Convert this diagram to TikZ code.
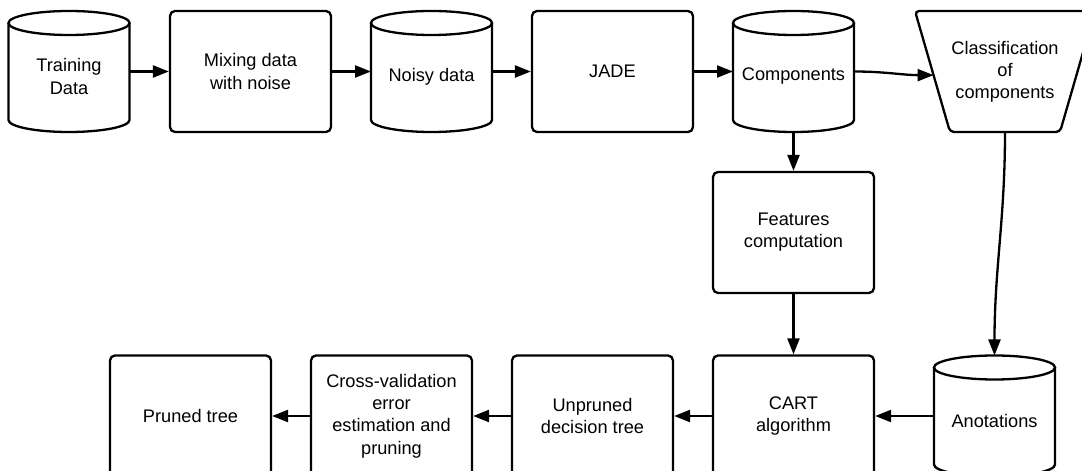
\documentclass[tikz,border=0pt]{standalone}
\usepackage{fontspec}
\setmainfont{Liberation Sans}
\usetikzlibrary{arrows.meta,calc}
\newcommand\lbl{\fontsize{18.2pt}{22.2pt}\selectfont}
\newcommand\drawcyl[1]{%
  \draw[ln] ([yshift=-12pt]#1.north west) -- ([yshift=12pt]#1.south west)
     arc[start angle=180,end angle=360,x radius=60.5pt,y radius=12pt]
     -- ([yshift=-12pt]#1.north east);
  \draw[ln] ([yshift=-12pt]#1.north) ellipse[x radius=60.5pt,y radius=12pt];}
\tikzset{
  ln/.style={line width=2.3pt},
  box/.style={draw, line width=2.3pt, rounded corners=5pt, minimum width=161pt,
    minimum height=121pt, inner sep=0pt, align=center, font=\lbl},
  cyl/.style={minimum width=121pt, minimum height=121pt, inner sep=0pt,
    outer sep=0pt},
  cyltext/.style={align=center, font=\lbl, yshift=-5pt, inner sep=0pt},
  trap/.style={minimum width=180pt, minimum height=121pt, inner sep=0pt,
    outer sep=0pt, align=center, font=\lbl},
  arr/.style={line width=2.3pt, -{Triangle[length=16pt,width=12pt]}},
}
\begin{document}
\begin{tikzpicture}[x=1pt,y=1pt]
\useasboundingbox (0,0) rectangle (1082,471);
\clip (0,0) rectangle (1082,471);
% top row
\node[cyl, label={[cyltext]center:Training\\Data}] (train) at (69,399.5) {};
\drawcyl{train}
\node[box] (mix) at (250.5,399.5) {Mixing data\\with noise};
\node[cyl, label={[cyltext]center:Noisy data}] (noisy) at (431.5,399.5) {};
\drawcyl{noisy}
\node[box] (jade) at (612.5,399.5) {JADE};
\node[cyl, label={[cyltext]center:Components}] (comp) at (793.5,399.5) {};
\drawcyl{comp}
\node[trap] (class) at (1005,399.5) {Classification\\of\\components};
\draw[ln, rounded corners=4pt] (class.north west) -- ([xshift=35pt]class.south west)
  -- ([xshift=-35pt]class.south east) -- (class.north east) -- cycle;
% middle
\node[box] (feat) at (793.5,238.5) {Features\\computation};
% bottom row
\node[box] (cart) at (793.5,55) {CART\\algorithm};
\node[cyl, label={[cyltext]center:Anotations}] (anot) at (994.5,55) {};
\drawcyl{anot}
\node[box] (unpr) at (592.5,55) {Unpruned\\decision tree};
\node[box] (cv) at (391.5,55) {Cross-validation\\error\\estimation and\\pruning};
\node[box] (pruned) at (190.5,55) {Pruned tree};
\coordinate (classin) at ($(class.north west)!0.53!([xshift=35pt]class.south west)$);
% connectors
\draw[arr] (train.east) -- (mix.west);
\draw[arr] (mix.east) -- (noisy.west);
\draw[arr] (noisy.east) -- (jade.west);
\draw[arr] (jade.east) -- (comp.west);
\draw[arr] (comp.east) to[out=0,in=180] (classin);
\draw[arr] (comp.south) -- (feat.north);
\draw[arr] (feat.south) -- (cart.north);
\draw[arr] (class.south) to[out=-90,in=90] (anot.north);
\draw[arr] (anot.west) -- (cart.east);
\draw[arr] (cart.west) -- (unpr.east);
\draw[arr] (unpr.west) -- (cv.east);
\draw[arr] (cv.west) -- (pruned.east);
\end{tikzpicture}
\end{document}
